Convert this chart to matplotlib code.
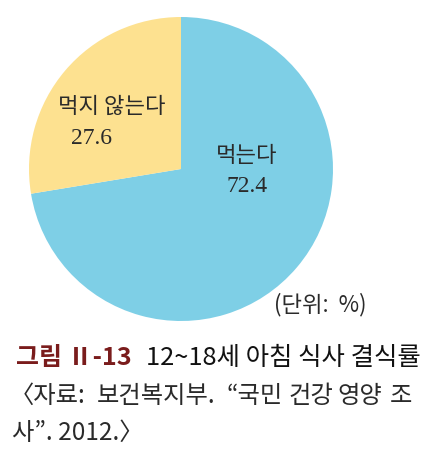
import matplotlib
matplotlib.use("Agg")
import matplotlib.pyplot as plt

plt.rcParams['font.family'] = ['Noto Sans CJK KR', 'DejaVu Sans']

categories = ["먹는다", "먹지 않는다"]
values = [72.4, 27.6]
colors = ["#7ECFE6", "#FDE190"]

W, H = 438, 465
fig = plt.figure(figsize=(W/100, H/100), dpi=100)

cx, cy, r = 181, 169, 152
ax = fig.add_axes([(cx - r)/W, (H - cy - r)/H, 2*r/W, 2*r/H])
ax.pie(values, colors=colors, startangle=90, counterclock=False, radius=1,
       wedgeprops=dict(linewidth=0))
ax.set_xlim(-1, 1); ax.set_ylim(-1, 1)
ax.set_aspect('equal')
ax.axis('off')

def px(x, y):
    return x / W, 1 - y / H

serif = ['Liberation Serif', 'DejaVu Serif']
txt = '#2a2a2a'
# labels
fig.text(*px(112, 106), categories[1], ha='center', va='center', fontsize=16, color=txt)
fig.text(*px(92, 138), f"{values[1]}", ha='center', va='center', fontsize=17, family=serif, color=txt)
fig.text(*px(247, 155), categories[0], ha='center', va='center', fontsize=16, color=txt)
fig.text(*px(247, 187), f"{values[0]}", ha='center', va='center', fontsize=17, family=serif, color=txt)
fig.text(*px(320, 305), "(단위:  %)", ha='center', va='center', fontsize=16, color=txt)

# title
fig.text(*px(16, 358), "그림 Ⅱ-13", ha='left', va='center', fontsize=18, fontweight='bold', color='#7A1C1C')
fig.text(*px(146, 358), "12~18세 아침 식사 결식률", ha='left', va='center', fontsize=18.3, color='#111111')

# source (justified first line)
src_words = ["〈자료:", "보건복지부.", "“국민", "건강", "영양", "조"]
src_x = [10, 97, 226, 288, 337, 390]
for wd, x in zip(src_words, src_x):
    fig.text(*px(x, 396), wd, ha='left', va='center', fontsize=17.5, color=txt)
fig.text(*px(12, 433), "사”. 2012.〉", ha='left', va='center', fontsize=17.5, color=txt)

fig.savefig("out.png", dpi=100)
